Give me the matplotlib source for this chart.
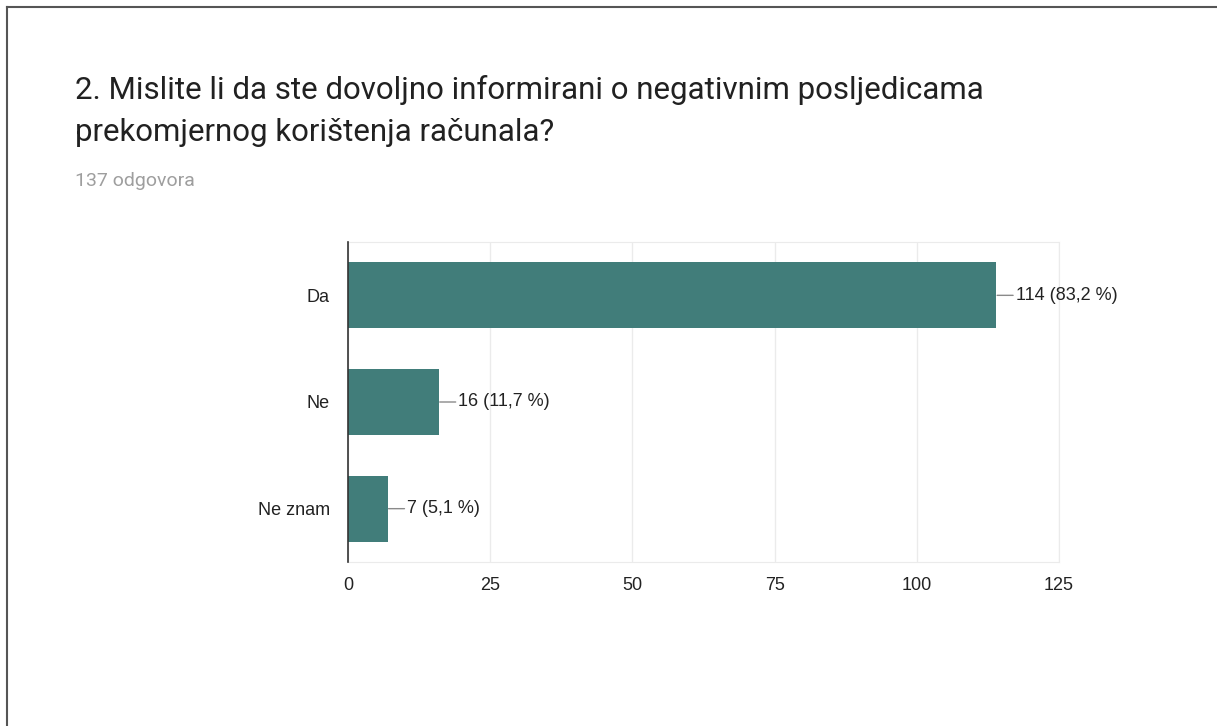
import matplotlib
matplotlib.use("Agg")
import matplotlib.pyplot as plt
from matplotlib.lines import Line2D

# =====================================================
# DATA
# =====================================================
categories = ["Da", "Ne", "Ne znam"]
counts = [114, 16, 7]
percents = ["83,2", "11,7", "5,1"]
x_ticks = [0, 25, 50, 75, 100, 125]

title_text = ("2. Mislite li da ste dovoljno informirani o negativnim posljedicama\n"
              "prekomjernog korištenja računala?")
subtitle_text = "137 odgovora"

BAR_COLOR = "#417d7a"
W, H = 1217, 726

# =====================================================
# FIGURE
# =====================================================
fig = plt.figure(figsize=(W / 100, H / 100), dpi=100)
fig.patch.set_facecolor("white")

# page frame (top and left edge only)
fig.add_artist(Line2D([7 / W, 7 / W], [0, 1 - 7 / H], color="#555555", lw=1.5,
                      transform=fig.transFigure))
fig.add_artist(Line2D([7 / W, 1], [1 - 7 / H, 1 - 7 / H], color="#555555", lw=1.5,
                      transform=fig.transFigure))

# ---- titles ----
fig.text(75 / W, 1 - 75 / H, title_text, family="Roboto", fontsize=22.5,
         color="#212121", va="top", ha="left", linespacing=1.58)
fig.text(75 / W, 1 - 181 / H, subtitle_text, family="Roboto", fontsize=14,
         color="#9e9e9e", va="center", ha="left")

# ---- axes ----
left, right, top, bottom = 348, 1059, 242, 562
ax = fig.add_axes([left / W, 1 - bottom / H, (right - left) / W, (bottom - top) / H])

y_pos = list(range(len(categories)))
ax.barh(y_pos, counts, height=0.62, color=BAR_COLOR, zorder=3)
ax.set_ylim(len(categories) - 0.5, -0.5)
ax.set_xlim(x_ticks[0], x_ticks[-1])
ax.set_xticks(x_ticks)
ax.set_yticks(y_pos)
ax.set_yticklabels(categories)

ax.grid(axis="x", color="#ebebeb", lw=1, zorder=0)
ax.tick_params(length=0, labelsize=13, labelcolor="#222222")
ax.tick_params(axis="x", pad=11)
ax.tick_params(axis="y", pad=13)
for lbl in ax.get_xticklabels() + ax.get_yticklabels():
    lbl.set_family("Liberation Sans")

for side in ["top", "right", "bottom"]:
    ax.spines[side].set_color("#ebebeb")
ax.spines["left"].set_color("#333333")
ax.spines["left"].set_linewidth(1.2)
ax.spines["left"].set_zorder(4)

# ---- value labels with leader line ----
for y, c, p in zip(y_pos, counts, percents):
    ax.annotate(f"{c} ({p} %)", xy=(c, y), xytext=(14, 0), textcoords="offset points",
                va="center", ha="left", fontsize=13, family="Liberation Sans",
                color="#222222",
                arrowprops=dict(arrowstyle="-", color="#8a8a8a", lw=1,
                                shrinkA=0, shrinkB=0.5))

fig.savefig("out.png", dpi=100, facecolor="white")
